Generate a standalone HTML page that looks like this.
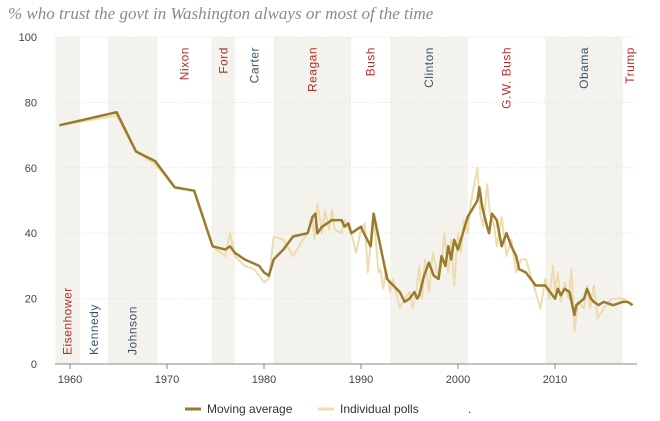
<!DOCTYPE html>
<html><head><meta charset="utf-8"><style>
body{margin:0;background:#fff;}
svg{display:block;font-family:"Liberation Sans",sans-serif;}
</style></head><body>
<svg id="chart" width="660" height="421">
<text x="8" y="19" font-family="Liberation Serif" font-style="italic" font-size="17" fill="#8a8a8a">% who trust the govt in Washington always or most of the time</text>
<g id="bands"></g><g id="grid"></g><g id="axes"></g><g id="series"></g>
<g>
<line x1="185" y1="409" x2="201" y2="409" stroke="#9a7a2c" stroke-width="3"/>
<text x="207" y="413" font-size="12" fill="#333">Moving average</text>
<line x1="318" y1="409" x2="334" y2="409" stroke="#ecdcaf" stroke-width="3"/>
<text x="340" y="413" font-size="12" fill="#333">Individual polls</text>
<text x="468" y="413" font-size="12" fill="#333">.</text>
</g>
</svg>
<script>
const presidents=["Eisenhower","Kennedy","Johnson","Nixon","Ford","Carter","Reagan","Bush","Clinton","G.W. Bush","Obama","Trump"];
const termStart=[1958.5,1961,1963.9,1969,1974.6,1977,1981,1989,1993,2001,2009,2017];
const termEnd=[1961,1963.9,1969,1974.6,1977,1981,1989,1993,2001,2009,2017,2018.45];
const party=["R","D","D","R","R","D","R","R","D","R","D","R"];
const yTicks=[0,20,40,60,80,100];
const xTicks=[1960,1970,1980,1990,2000,2010];
const avgYears=[1958.9,1964.8,1966.8,1968.8,1970.8,1972.8,1974.7,1976,1976.5,1977,1978,1979.5,1980,1980.5,1981,1982,1983,1984.5,1985,1985.3,1985.5,1986,1987,1988,1988.3,1988.7,1989,1990,1990.3,1991,1991.3,1992,1992.7,1993,1994,1994.5,1995,1995.5,1995.8,1996,1996.5,1997,1997.5,1998,1998.3,1998.7,1999,1999.3,1999.6,2000,2000.5,2001,2002,2002.2,2002.5,2003,2003.2,2003.5,2004,2004.5,2005,2005.5,2006,2006.3,2007,2008,2009,2010,2010.3,2010.6,2011,2011.5,2012,2012.2,2013,2013.3,2013.7,2014,2014.5,2015,2016,2017,2017.5,2018];
const avgValues=[73,77,65,62,54,53,36,35,36,34,32,30,28,27,32,35,39,40,45,46,40,42,44,44,42,43,40,42,40,36,46,36,26,25,22,19,20,22,20,21,27,31,27,26,33,30,36,32,38,35,40,45,50,54,48,42,40,46,44,36,40,36,33,29,28,24,24,20,23,21,23,22,15,18,20,23,20,19,18,19,18,19,19,18];
const pollYears=[1958.9,1964.8,1966.8,1968.8,1970.8,1972.8,1974.7,1976,1976.5,1977,1978,1979,1980,1980.5,1981,1982,1983,1984,1984.5,1985,1985.2,1985.5,1986,1986.3,1986.7,1987,1987.3,1988,1988.3,1989,1989.5,1990,1990.4,1990.7,1991.3,1991.8,1992,1992.3,1992.6,1993,1993.3,1994,1994.5,1995,1995.3,1995.7,1996,1996.3,1996.6,1997,1997.4,1998,1998.3,1998.6,1999,1999.3,1999.6,2000,2000.3,2000.6,2001,2001.3,2002,2002.3,2002.6,2003,2003.3,2003.7,2004,2004.5,2005,2005.5,2006,2006.5,2007,2008,2008.5,2009,2009.4,2009.8,2010,2010.3,2010.6,2011,2011.4,2011.7,2012,2012.4,2013,2013.3,2013.6,2014,2014.4,2015,2015.5,2016,2017,2018];
const pollValues=[73,76,65,61,54,53,36,33,40,33,30,29,25,26,39,38,33,38,40,45,38,49,40,47,41,47,41,40,44,40,34,41,43,28,46,28,29,23,29,22,26,17,20,22,17,22,30,20,32,22,34,26,31,40,28,38,24,40,34,44,40,49,60,46,42,55,46,43,36,45,33,38,28,32,32,22,17,26,20,30,22,28,19,25,20,29,10,19,17,24,17,24,14,17,19,20,20,18];

const NS="http://www.w3.org/2000/svg";
const L=55,R=637,T=37,B=364;
const x=v=>70+(v-1960)*9.7;
const y=v=>B-(v/100)*(B-T);
function mk(tag,attrs,parent,txt){const e=document.createElementNS(NS,tag);for(const k in attrs)e.setAttribute(k,attrs[k]);if(txt!=null)e.textContent=txt;parent.appendChild(e);return e;}
const bands=document.getElementById('bands');
presidents.forEach((p,i)=>{
  if(i%2===0){const r=mk('rect',{x:x(termStart[i]),y:T,width:x(termEnd[i])-x(termStart[i]),height:B-T,fill:'#f4f2ec'},bands);
  
  }
  const cx=(x(termStart[i])+x(termEnd[i]))/2+4;
  const t=mk('text',{x:cx,y:355,'font-size':12,'letter-spacing':'0.5',fill:party[i]==='R'?'#b0302a':'#3d5468'},bands,p);
  
  
  let ty=355;
  if(i>=3){ty=47+t.getComputedTextLength();}
  t.setAttribute('y',ty);
  t.setAttribute('transform',`rotate(-90 ${cx} ${ty})`);
});
const grid=document.getElementById('grid');
yTicks.forEach(v=>{
  if(v>0){const g=mk('line',{x1:L,x2:R,y1:y(v),y2:y(v),stroke:'#ddd','stroke-dasharray':'1 2'},grid);
  
  }
  const t=mk('text',{x:37,y:y(v)+4,'font-size':11,fill:'#444','text-anchor':'end'},grid,v);
  
  
});
const axes=document.getElementById('axes');
const ax=mk('line',{x1:L,x2:R,y1:B,y2:B,stroke:'#888'},axes);


xTicks.forEach(v=>{
  mk('line',{x1:x(v),x2:x(v),y1:B,y2:B+5,stroke:'#888'},axes);
  const t=mk('text',{x:x(v),y:B+19,'font-size':11,fill:'#444','text-anchor':'middle'},axes,v);
  
  
});
const s=document.getElementById('series');
const p1=mk('polyline',{points:pollYears.map((v,i)=>x(v)+','+y(pollValues[i])).join(' '),fill:'none',stroke:'#ecdcaf','stroke-width':2,'stroke-linejoin':'round'},s);


const p2=mk('polyline',{points:avgYears.map((v,i)=>x(v)+','+y(avgValues[i])).join(' '),fill:'none',stroke:'#9a7a2c','stroke-width':2.5,'stroke-linejoin':'round'},s);


</script>
</body></html>
